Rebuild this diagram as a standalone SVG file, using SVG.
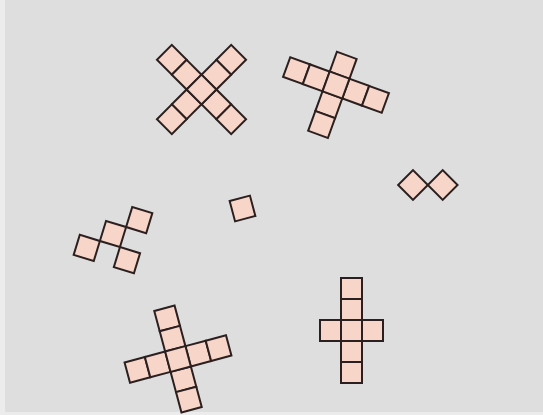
<svg xmlns="http://www.w3.org/2000/svg" xmlns:xlink="http://www.w3.org/1999/xlink" width="543" height="415" viewBox="0 0 543 415">
<style>
.cell{fill:#f7d5c8;stroke:#2b1f1f;stroke-width:2;stroke-linejoin:miter}
</style>
<defs>
<rect id="sq" class="cell" x="-10.5" y="-10.5" width="21" height="21"/>
</defs>
<rect x="0" y="0" width="543" height="415" fill="#dedede"/>
<rect x="0" y="0" width="5" height="415" fill="#ececec"/>
<rect x="0" y="412" width="543" height="3" fill="#ececec"/>
<g id="x-cross" transform="translate(201.5,89.5) rotate(45)">
<use href="#sq" x="-42" y="0"/><use href="#sq" x="-21" y="0"/><use href="#sq" x="21" y="0"/><use href="#sq" x="42" y="0"/>
<use href="#sq" x="0" y="-42"/><use href="#sq" x="0" y="-21"/><use href="#sq" x="0" y="21"/><use href="#sq" x="0" y="42"/>
<use href="#sq" x="0" y="0"/>
</g>
<g id="tilted-cross" transform="translate(336,85) rotate(20)">
<use href="#sq" x="-42" y="0"/><use href="#sq" x="-21" y="0"/><use href="#sq" x="21" y="0"/><use href="#sq" x="42" y="0"/>
<use href="#sq" x="0" y="-21"/><use href="#sq" x="0" y="21"/><use href="#sq" x="0" y="42"/>
<use href="#sq" x="0" y="0"/>
</g>
<g id="diag-four" transform="translate(113,234) rotate(17)">
<use href="#sq" x="0" y="0"/><use href="#sq" x="21" y="-21"/><use href="#sq" x="-21" y="21"/><use href="#sq" x="21" y="21"/>
</g>
<g id="single" transform="translate(242.5,208.5) rotate(-15)">
<use href="#sq" x="0" y="0"/>
</g>
<g id="pair" transform="translate(413,185)">
<use href="#sq" transform="rotate(45)"/>
<use href="#sq" transform="translate(29.7,0) rotate(45)"/>
</g>
<g id="big-cross" transform="translate(178,359) rotate(-15)">
<use href="#sq" x="-42" y="0"/><use href="#sq" x="-21" y="0"/><use href="#sq" x="21" y="0"/><use href="#sq" x="42" y="0"/>
<use href="#sq" x="0" y="-42"/><use href="#sq" x="0" y="-21"/><use href="#sq" x="0" y="21"/><use href="#sq" x="0" y="42"/>
<use href="#sq" x="0" y="0"/>
</g>
<g id="upright-cross" transform="translate(351.5,330.5)">
<use href="#sq" x="0" y="-42"/><use href="#sq" x="0" y="-21"/><use href="#sq" x="0" y="21"/><use href="#sq" x="0" y="42"/>
<use href="#sq" x="-21" y="0"/><use href="#sq" x="21" y="0"/>
<use href="#sq" x="0" y="0"/>
</g>
<g id="connectors"/>
</svg>
